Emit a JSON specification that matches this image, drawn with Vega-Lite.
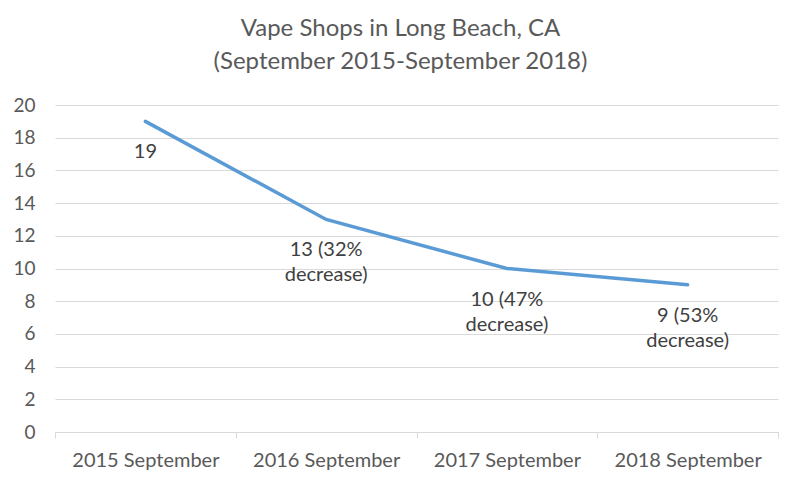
{
  "$schema": "https://vega.github.io/schema/vega-lite/v6.json",
  "width": 723,
  "height": 327,
  "autosize": {"type": "none"},
  "padding": {"left": 55, "top": 105, "right": 22, "bottom": 56},
  "background": "white",
  "title": {
    "text": ["Vape Shops in Long Beach, CA", "(September 2015-September 2018)"],
    "font": "Lato",
    "fontSize": 24,
    "fontWeight": "normal",
    "color": "#595959",
    "anchor": "middle",
    "dx": -16,
    "offset": 22,
    "lineHeight": 33
  },
  "data": {
    "values": [
      {"period": "2015 September", "shops": 19, "label": ["19"]},
      {"period": "2016 September", "shops": 13, "label": ["13 (32%", "decrease)"]},
      {"period": "2017 September", "shops": 10, "label": ["10 (47%", "decrease)"]},
      {"period": "2018 September", "shops": 9, "label": ["9 (53%", "decrease)"]}
    ]
  },
  "encoding": {
    "x": {
      "field": "period",
      "type": "nominal",
      "sort": null,
      "scale": {"paddingInner": 0, "paddingOuter": 0},
      "axis": {
        "title": null,
        "labelAngle": 0,
        "labelFont": "Lato",
        "labelFontSize": 20,
        "labelColor": "#595959",
        "domainColor": "#D9D9D9",
        "tickColor": "#D9D9D9",
        "tickBand": "extent",
        "tickSize": 6,
        "labelPadding": 12,
        "grid": false
      }
    },
    "y": {
      "field": "shops",
      "type": "quantitative",
      "scale": {"domain": [0, 20]},
      "axis": {
        "title": null,
        "values": [0, 2, 4, 6, 8, 10, 12, 14, 16, 18, 20],
        "labelFont": "Lato",
        "labelFontSize": 19,
        "labelColor": "#595959",
        "domain": false,
        "ticks": false,
        "labelPadding": 20,
        "gridColor": "#D9D9D9",
        "gridWidth": 1
      }
    }
  },
  "layer": [
    {
      "mark": {"type": "line", "color": "#5B9BD5", "strokeWidth": 3.5, "strokeCap": "round"}
    },
    {
      "mark": {"type": "text", "font": "Lato", "fontSize": 20, "color": "#404040", "baseline": "top", "dy": 21, "lineHeight": 25},
      "encoding": {"text": {"field": "label"}}
    }
  ],
  "config": {"view": {"stroke": null}}
}
